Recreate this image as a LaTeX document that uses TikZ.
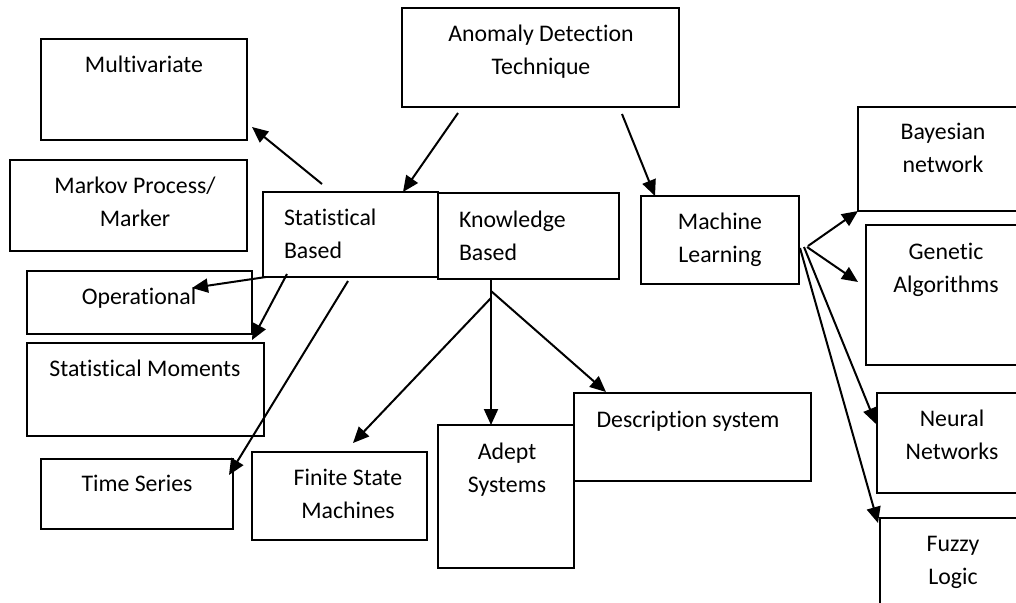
\documentclass[tikz,border=0pt]{standalone}
\usepackage{fontspec}
\setmainfont{Carlito}[Ligatures=NoCommon]
\usetikzlibrary{arrows.meta}
\begin{document}
\begin{tikzpicture}[x=1pt,y=-1pt,
  box/.style={draw, line width=1.8pt, rectangle, inner sep=0pt, outer sep=0pt, anchor=north west},
  lbl/.style={inner sep=0pt, outer sep=0pt, anchor=north, align=center, font=\fontsize{23.8pt}{33pt}\selectfont},
  lbll/.style={lbl, anchor=north west, align=left},
  arr/.style={line width=2pt, -{Triangle[length=16pt,width=14pt]}}]
\useasboundingbox (0,0) rectangle (1016,602);
% boxes
\node[box, minimum width=277pt, minimum height=99pt] (anom) at (402,8) {};
\node[box, minimum width=206pt, minimum height=101pt] (multi) at (41,39) {};
\node[box, minimum width=237pt, minimum height=91pt] (markov) at (10,160) {};
\node[box, minimum width=175pt, minimum height=85pt] (stat) at (263,192) {};
\node[box, minimum width=181pt, minimum height=86pt] (know) at (438,193) {};
\node[box, minimum width=158pt, minimum height=88pt] (ml) at (641,196) {};
\node[box, minimum width=172pt, minimum height=104pt] (bayes) at (858,107) {};
\node[box, minimum width=164pt, minimum height=140pt] (gen) at (866,225) {};
\node[box, minimum width=225pt, minimum height=63pt] (oper) at (27,271) {};
\node[box, minimum width=237pt, minimum height=93pt] (mom) at (27,343) {};
\node[box, minimum width=153pt, minimum height=100pt] (neural) at (877,393) {};
\node[box, minimum width=192pt, minimum height=70pt] (time) at (41,459) {};
\node[box, minimum width=175pt, minimum height=88pt] (finite) at (252,452) {};
\node[box, minimum width=237pt, minimum height=88pt] (desc) at (574,393) {};
\node[box, minimum width=136pt, minimum height=143pt] (adept) at (438,425) {};
\node[box, minimum width=150pt, minimum height=102pt] (fuzzy) at (880,518) {};
% labels
\node[lbl] (anomT) at (541,25) {Anomaly Detection\\Technique};
\node[lbl] (multiT) at (144,56) {Multivariate};
\node[lbl] (markovT) at (135,177) {Markov Process/\\Marker};
\node[lbll] (statT) at (284,209) {Statistical\\Based};
\node[lbll] (knowT) at (459,211) {Knowledge\\Based};
\node[lbl] (mlT) at (720,213) {Machine\\Learning};
\node[lbl] (bayesT) at (943,123) {Bayesian\\network};
\node[lbl] (genT) at (946,243) {Genetic\\Algorithms};
\node[lbl] (operT) at (139,288) {Operational};
\node[lbl] (momT) at (145,360) {Statistical Moments};
\node[lbl] (neuralT) at (952,410) {Neural\\Networks};
\node[lbl] (timeT) at (137,475) {Time Series};
\node[lbl] (finiteT) at (348,469) {Finite State\\Machines};
\node[lbl] (descT) at (688,411) {Description system};
\node[lbl] (adeptT) at (507,443) {Adept\\Systems};
\node[lbl] (fuzzyT) at (953,536) {Fuzzy\\Logic};
% connectors
\draw[arr] ([shift={(56,6)}]anom.south west) -- ([xshift=-35]stat.north east);
\draw[arr] ([shift={(-57,7)}]anom.south east) -- ([xshift=14]ml.north west);
\draw[arr] ([shift={(59,-8)}]stat.north west) -- ([shift={(5,-13)}]multi.south east);
\draw[arr] ([xshift=3]stat.south west) -- ([shift={(-60,17)}]oper.north east);
\draw[arr] ([shift={(24,-3)}]stat.south west) -- ([yshift=-6]oper.south east);
\draw[arr] ([shift={(85,4)}]stat.south west) -- ([shift={(-4,16)}]time.north east);
\draw[arr] ([xshift=53]know.south west) -- ([xshift=53]adept.north west);
\draw[arr] ([shift={(53,19)}]know.south west) -- ([shift={(-74,-9)}]finite.north east);
\draw[arr] ([shift={(53,12)}]know.south west) -- ([shift={(32,-1)}]desc.north west);
\draw[arr] ([shift={(9,50)}]ml.north east) -- (bayes.south west);
\draw[arr] ([shift={(8,51)}]ml.north east) -- ([shift={(-8,57)}]gen.north west);
\draw[arr] ([shift={(5,51)}]ml.north east) -- ([shift={(-1,31)}]neural.north west);
\draw[arr] ([shift={(1,52)}]ml.north east) -- ([shift={(-2,5)}]fuzzy.north west);
\end{tikzpicture}
\end{document}
